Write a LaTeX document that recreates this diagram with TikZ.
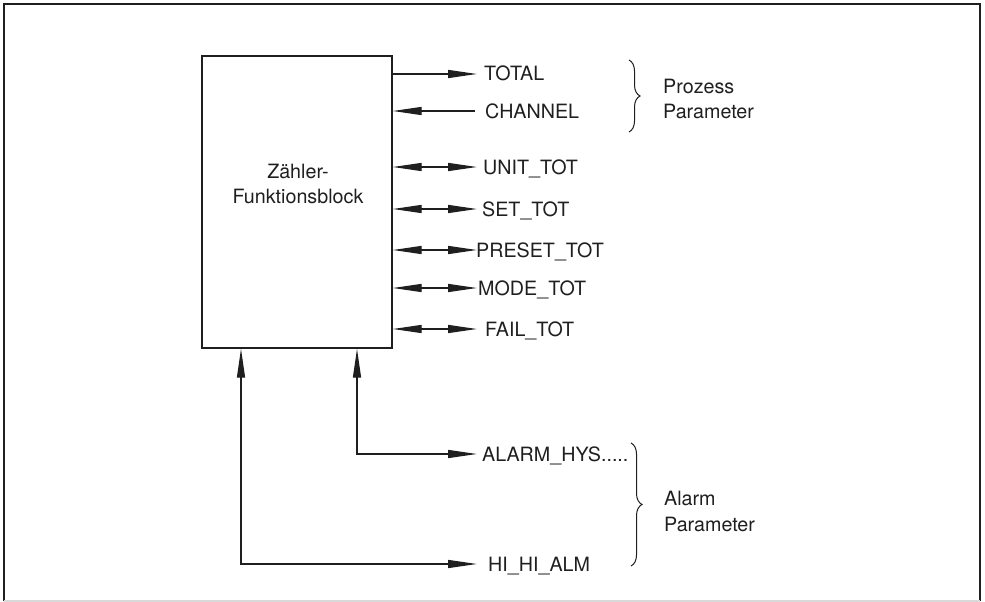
\documentclass[tikz,border=0pt]{standalone}
\usepackage{fontspec}
\setmainfont{TeX Gyre Heros}
\usetikzlibrary{arrows.meta,decorations.pathreplacing}
\begin{document}
\begin{tikzpicture}[x=1pt,y=-1pt,
  ink/.style={draw=black!88, line width=1.4pt},
  >={Triangle[length=29pt,width=8pt]},
  txt/.style={inner sep=0pt, text=black!88, font=\fontsize{19.7}{25}\selectfont},
  lbl/.style={txt, anchor=base west},
  brc/.style={draw=black!88, line width=1pt, decorate,
              decoration={brace, amplitude=11pt}}]
\useasboundingbox (0,0) rectangle (985,602);

% outer frame
\draw[ink, line width=1.5pt] (4,601) -- (4,4) -- (980,4) -- (980,601);
\draw[gray!30, line width=1.5pt] (4,601) -- (980,601);

% function block
\node (blk) [ink, minimum width=190pt, minimum height=292pt, inner sep=0pt] at (297,202) {};
\node (bt1) [txt, anchor=base] at (298,178) {Zähler-};
\node (bt2) [txt, anchor=base] at (298,203) {Funktionsblock};

% arrow ends on the right side
\coordinate (eTOTAL)  at (477,74);
\coordinate (eCHAN)   at (475,111);
\coordinate (eUNIT)   at (477,167);
\coordinate (eSET)    at (477,209);
\coordinate (ePRESET) at (477,250);
\coordinate (eMODE)   at (477,288);
\coordinate (eFAIL)   at (477,329);
\coordinate (vHYS)    at (357,454);
\coordinate (eHYS)    at (477,454);
\coordinate (vHI)     at (241,564);
\coordinate (eHI)     at (477,564);

% parameter labels
\node (lTOTAL)  [lbl] at (484,81)  {TOTAL};
\node (lCHAN)   [lbl] at (485,118) {CHANNEL};
\node (lUNIT)   [lbl] at (483,174) {UNIT\_TOT};
\node (lSET)    [lbl] at (482,216) {SET\_TOT};
\node (lPRESET) [lbl] at (476,257) {PRESET\_TOT};
\node (lMODE)   [lbl] at (478,295) {MODE\_TOT};
\node (lFAIL)   [lbl] at (485,336) {FAIL\_TOT};
\node (lHYS)    [lbl] at (482,461) {ALARM\_HYS.....};
\node (lHI)     [lbl] at (488,571) {HI\_HI\_ALM};

% connectors
\draw[ink,->]  (blk.east |- eTOTAL)  -- (eTOTAL);
\draw[ink,<-]  (blk.east |- eCHAN)   -- (eCHAN);
\draw[ink,<->] (blk.east |- eUNIT)   -- (eUNIT);
\draw[ink,<->] (blk.east |- eSET)    -- (eSET);
\draw[ink,<->] (blk.east |- ePRESET) -- (ePRESET);
\draw[ink,<->] (blk.east |- eMODE)   -- (eMODE);
\draw[ink,<->] (blk.east |- eFAIL)   -- (eFAIL);
\draw[ink,<->] (blk.south -| vHYS) -- (vHYS) -- (eHYS);
\draw[ink,<->] (blk.south -| vHI)  -- (vHI)  -- (eHI);

% group braces and captions
\draw[brc] (629,60) -- (629,132);
\node (gP1) [lbl] at (663,93)  {Prozess};
\node (gP2) [lbl] at (663,118) {Parameter};
\draw[brc] (631,443) -- (631,566);
\node (gA1) [lbl] at (664,505) {Alarm};
\node (gA2) [lbl] at (664,531) {Parameter};
\end{tikzpicture}
\end{document}
